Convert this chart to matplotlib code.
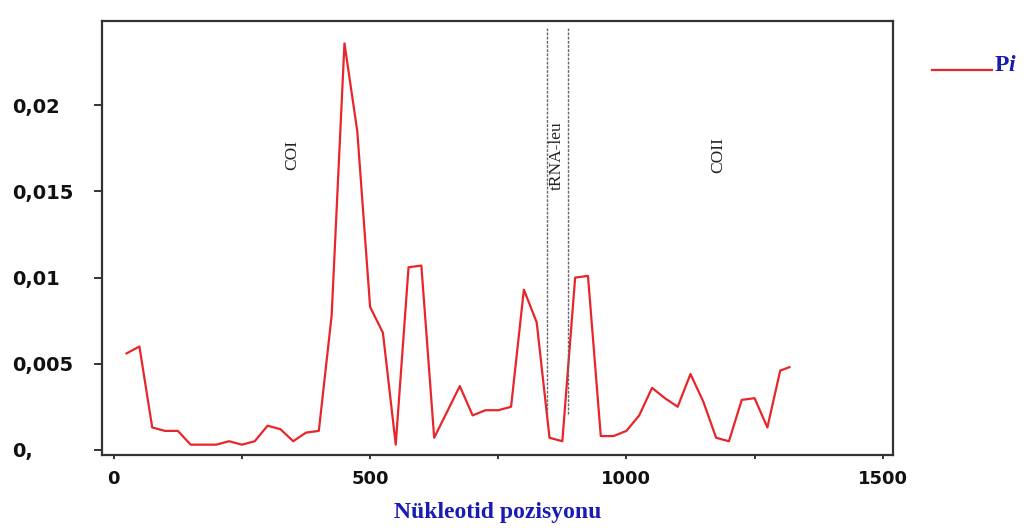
import matplotlib
matplotlib.use("Agg")
import matplotlib.pyplot as plt
from matplotlib.lines import Line2D

# nucleotide diversity (Pi) in sliding windows
positions = [25, 50, 75, 100, 125, 150, 175, 200, 225, 250, 275, 300, 325,
             350, 375, 400, 425, 450, 475, 500, 525, 550, 575, 600, 625, 650,
             675, 700, 725, 750, 775, 800, 825, 850, 875, 900, 925, 950, 975,
             1000, 1025, 1050, 1075, 1100, 1125, 1150, 1175, 1200, 1225, 1250,
             1275, 1300, 1318]
pi_values = [0.0056, 0.0060, 0.0013, 0.0011, 0.0011, 0.0003, 0.0003, 0.0003,
             0.0005, 0.0003, 0.0005, 0.0014, 0.0012, 0.0005, 0.0010, 0.0011,
             0.0078, 0.0236, 0.0185, 0.0083, 0.0068, 0.0003, 0.0106, 0.0107,
             0.0007, 0.0022, 0.0037, 0.0020, 0.0023, 0.0023, 0.0025, 0.0093,
             0.0074, 0.0007, 0.0005, 0.0100, 0.0101, 0.0008, 0.0008, 0.0011,
             0.0020, 0.0036, 0.0030, 0.0025, 0.0044, 0.0028, 0.0007, 0.0005,
             0.0029, 0.0030, 0.0013, 0.0046, 0.0048]

trna_bounds = [846, 887]
regions = ["COI", "tRNA-leu", "COII"]
region_x = [348, 865, 1180]

yticks = [0, 0.005, 0.01, 0.015, 0.02]
ytick_labels = ["0,", "0,005", "0,01", "0,015", "0,02"]
xticks = [0, 500, 1000, 1500]
xticks_minor = [250, 750, 1250]

fig = plt.figure(figsize=(10.25, 5.30), dpi=100)
ax = fig.add_axes([0.0995, 0.1415, 0.7717, 0.8189])

ax.plot(positions, pi_values, color="#e8262a", lw=1.6)

ax.vlines(trna_bounds, 0.0021, 0.0245, color="#666666", lw=1.0,
          linestyles=(0, (2, 1)))
for name, xr in zip(regions, region_x):
    ax.text(xr, 0.0171, name, rotation=90, ha="center", va="center",
            family="Liberation Serif", fontsize=12.5, color="#222222")

ax.set_xlim(-23, 1520)
ax.set_ylim(-0.0003, 0.0249)

ax.set_xticks(xticks)
ax.set_xticks(xticks_minor, minor=True)
ax.set_xticklabels([str(v) for v in xticks], fontsize=13, fontweight="bold",
                   family="DejaVu Sans")
ax.tick_params(axis="x", which="both", direction="out", length=3, width=1.2,
               pad=8, colors="#111111")

ax.set_yticks(yticks)
ax.set_yticklabels(ytick_labels, fontsize=14, fontweight="bold",
                   family="DejaVu Sans")
ax.tick_params(axis="y", direction="out", length=6, width=1.2, pad=59,
               colors="#111111")
for lab in ax.get_yticklabels():
    lab.set_ha("left")

for sp in ax.spines.values():
    sp.set_linewidth(1.6)
    sp.set_color("#333333")

ax.set_xlabel("Nükleotid pozisyonu", family="Liberation Serif", fontsize=17,
              fontweight="bold", color="#1a1ab4", labelpad=10)

# legend drawn by hand to the right of the axes
fig.add_artist(Line2D([0.909, 0.968], [0.868, 0.868], color="#e8262a",
                      lw=1.6, transform=fig.transFigure))
fig.text(0.970, 0.866, "P", family="Liberation Serif", fontsize=17,
         fontweight="bold", color="#1a1ab4", va="baseline")
fig.text(0.984, 0.866, "i", family="Liberation Serif", fontsize=17,
         fontweight="bold", style="italic", color="#1a1ab4", va="baseline")

fig.savefig("out.png", dpi=100)
